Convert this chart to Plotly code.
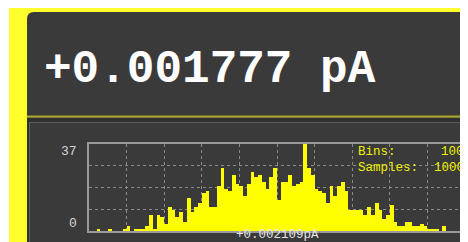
import plotly.graph_objects as go

# ---- data ----
bin_index = list(range(100))
counts = [0, 0, 1, 0, 0, 1, 0, 0, 0, 1,
          2, 0, 1, 1, 1, 2, 7, 1, 7, 6,
          3, 10, 9, 6, 8, 4, 14, 8, 10, 12,
          16, 17, 10, 10, 19, 27, 18, 17, 24, 20,
          19, 15, 20, 25, 23, 24, 21, 18, 23, 27,
          13, 21, 21, 24, 19, 20, 21, 37, 27, 24,
          18, 17, 16, 12, 19, 15, 19, 21, 17, 9,
          9, 9, 9, 7, 10, 7, 12, 9, 5, 7,
          11, 4, 2, 2, 4, 4, 2, 2, 3, 2,
          1, 1, 1, 0, 2, 0, 0, 0, 0, 0]
reading_text = "+0.001777 pA"
center_label = "+0.002109pA"
y_max_label = "37"
y_min_label = "0"
info_keys = ["Bins:", "Samples:"]
info_vals = ["100", "1000"]

# page has an 8px body margin; figure pixel = page pixel - 8
OFF = 8
W, H = 460, 234
L, R, T, B = 89 - OFF, 0, 144 - OFF, 11
PW, PH = W - L - R, H - T - B


def xp(px):  # px given in page (reference) pixels
    return (px - OFF - L) / PW


def yp(py):
    return (H - B - (py - OFF)) / PH


YELLOW = "#ffff2e"
MONO = "Liberation Mono, Courier New, monospace"

fig = go.Figure()
fig.add_trace(go.Bar(
    x=[i + 0.5 for i in bin_index], y=counts, width=1.0,
    marker=dict(color="#ffff00", line=dict(width=0)),
    hoverinfo="skip", showlegend=False,
))

shapes = []
# yellow frame
shapes.append(dict(type="rect", xref="paper", yref="paper", layer="below",
                   x0=xp(9), x1=xp(475), y0=yp(7), y1=yp(250),
                   fillcolor=YELLOW, line=dict(width=0)))
# top dark panel with rounded top-left corner
r = 7
x0, x1, y0, y1 = 27, 475, 12, 116
path = (f"M {xp(x0)},{yp(y1)} L {xp(x0)},{yp(y0 + r)} "
        f"Q {xp(x0)},{yp(y0)} {xp(x0 + r)},{yp(y0)} "
        f"L {xp(x1)},{yp(y0)} L {xp(x1)},{yp(y1)} Z")
shapes.append(dict(type="path", xref="paper", yref="paper", layer="below",
                   path=path, fillcolor="#3a3a3a", line=dict(width=0)))
# separator line
shapes.append(dict(type="rect", xref="paper", yref="paper", layer="below",
                   x0=xp(27), x1=xp(475), y0=yp(115.5), y1=yp(117.5),
                   fillcolor="#a6a630", line=dict(width=0)))
# lower panel
shapes.append(dict(type="rect", xref="paper", yref="paper", layer="below",
                   x0=xp(27), x1=xp(475), y0=yp(117.5), y1=yp(250),
                   fillcolor="#303030", line=dict(width=0)))
shapes.append(dict(type="rect", xref="paper", yref="paper", layer="below",
                   x0=xp(29.5), x1=xp(478), y0=yp(122.5), y1=yp(252),
                   fillcolor="#3a3a3a", line=dict(width=1, color="#5e5e5e")))

annotations = []
annotations.append(dict(text="<b>" + reading_text + "</b>", xref="paper", yref="paper",
                        x=xp(42), y=yp(70), xanchor="left", yanchor="middle",
                        showarrow=False,
                        font=dict(family=MONO, size=46, color="#ffffff")))
annotations.append(dict(text=y_max_label, xref="paper", yref="y",
                        x=xp(79), y=37, yshift=-7, xanchor="right", yanchor="middle",
                        showarrow=False, font=dict(family=MONO, size=13, color="#d4d4d4")))
annotations.append(dict(text=y_min_label, xref="paper", yref="y",
                        x=xp(79), y=0, yshift=7.5, xanchor="right", yanchor="middle",
                        showarrow=False, font=dict(family=MONO, size=13, color="#d4d4d4")))
annotations.append(dict(text=center_label, xref="x", yref="paper",
                        x=50, y=yp(235.3), xanchor="center", yanchor="middle",
                        showarrow=False, font=dict(family=MONO, size=12.5, color="#e6e6e6")))
for k, v, py in zip(info_keys, info_vals, [152, 167.5]):
    annotations.append(dict(text=k, xref="paper", yref="paper", x=xp(356), y=yp(py),
                            xanchor="left", yanchor="middle", showarrow=False,
                            font=dict(family=MONO, size=12.5, color="#f0f000")))
    annotations.append(dict(text=v, xref="paper", yref="paper", x=xp(466), y=yp(py),
                            xanchor="right", yanchor="middle", showarrow=False,
                            font=dict(family=MONO, size=12.5, color="#f0f000")))

fig.update_layout(
    width=W, height=H,
    margin=dict(l=L, r=R, t=T, b=B, pad=0),
    paper_bgcolor="#ffffff", plot_bgcolor="#000000",
    bargap=0, showlegend=False,
    shapes=shapes, annotations=annotations,
    xaxis=dict(range=[0, PW / 3.76], tickvals=[10, 20, 30, 40, 50, 60, 70, 80, 90],
               showticklabels=False, ticks="", showgrid=True, gridcolor="#8a8a8a",
               griddash="dot", gridwidth=1, zeroline=False,
               showline=True, linecolor="#9a9a9a", linewidth=1.5, mirror=True),
    yaxis=dict(range=[0, 37], tickvals=[9.25, 18.5, 27.75],
               showticklabels=False, ticks="", showgrid=True, gridcolor="#8a8a8a",
               griddash="dot", gridwidth=1, zeroline=False,
               showline=True, linecolor="#9a9a9a", linewidth=1.5, mirror=False),
)

fig.write_html("out.html")
